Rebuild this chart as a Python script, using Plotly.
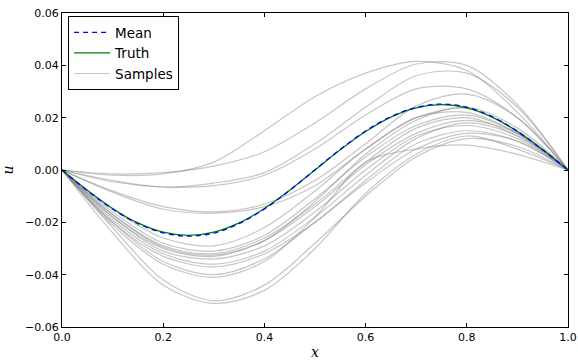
import plotly.graph_objects as go

# grid of x positions for the sampled curves
x_grid = [0.0, 0.1, 0.2, 0.3, 0.4, 0.5, 0.6, 0.7, 0.8, 0.9, 1.0]

x_fine = [0.0, 0.05, 0.1, 0.15, 0.2, 0.25, 0.3, 0.35, 0.4, 0.45, 0.5,
          0.55, 0.6, 0.65, 0.7, 0.75, 0.8, 0.85, 0.9, 0.95, 1.0]
truth = [0.0, -0.00773, -0.01469, -0.02023, -0.02378, -0.025, -0.02378, -0.02023,
         -0.01469, -0.00773, 0.0, 0.00773, 0.01469, 0.02023, 0.02378, 0.025,
         0.02378, 0.02023, 0.01469, 0.00773, 0.0]
mean = [0.0, -0.0079, -0.0149, -0.0205, -0.0240, -0.0253, -0.0241, -0.0205,
        -0.0149, -0.0078, 0.0001, 0.0079, 0.0149, 0.0204, 0.0239, 0.0252,
        0.0240, 0.0204, 0.0148, 0.0077, 0.0]

# sample curves (values in units of 1e-3 at x_grid)
s01 = [0, -2.0, -1.5, 3.0, 15.0, 28.0, 37.0, 41.5, 38.0, 22.0, 0]
s02 = [0, -1.5, -1.0, 1.5, 7.0, 18.0, 31.0, 40.5, 40.0, 25.0, 0]
s03 = [0, -4.0, -6.5, -5.0, -1.0, 10.0, 24.0, 36.0, 37.0, 24.0, 0]
s04 = [0, -4.5, -6.5, -6.0, -2.0, 8.0, 21.0, 31.0, 31.0, 20.0, 0]
s05 = [0, -8.0, -14.0, -16.0, -13.0, -4.0, 10.0, 24.5, 29.0, 20.0, 0]
s06 = [0, -8.5, -15.0, -16.5, -14.0, -6.0, 8.0, 20.0, 22.0, 14.0, 0]
s07 = [0, -15.0, -26.0, -29.0, -22.0, -8.0, 8.0, 20.0, 23.5, 15.0, 0]
s08 = [0, -16.0, -28.0, -31.0, -25.0, -11.0, 5.0, 17.0, 21.0, 14.0, 0]
s09 = [0, -17.0, -29.0, -32.0, -26.0, -13.0, 3.0, 16.0, 20.0, 13.0, 0]
s10 = [0, -17.0, -29.5, -32.5, -27.0, -14.0, 2.0, 14.0, 19.0, 14.0, 0]
s11 = [0, -18.0, -30.0, -33.0, -27.0, -12.0, 6.0, 19.0, 24.0, 16.0, 0]
s12 = [0, -18.0, -31.0, -34.0, -29.0, -16.0, 0.0, 13.0, 17.0, 12.0, 0]
s13 = [0, -19.0, -32.0, -36.0, -31.0, -18.0, -2.0, 12.0, 18.0, 13.0, 0]
s14 = [0, -20.0, -33.0, -37.0, -32.0, -20.0, -4.0, 10.0, 15.0, 11.0, 0]
s15 = [0, -20.0, -35.0, -40.0, -34.0, -20.0, -5.0, 8.0, 14.0, 11.0, 0]
s16 = [0, -21.0, -36.0, -41.0, -35.0, -18.0, 3.0, 8.0, 9.5, 6.0, 0]
s17 = [0, -22.0, -42.0, -50.0, -44.0, -28.0, -10.0, 5.0, 12.0, 9.0, 0]
s18 = [0, -24.0, -44.0, -51.0, -46.0, -30.0, -9.0, 6.0, 13.0, 8.0, 0]
samples = [s01, s02, s03, s04, s05, s06, s07, s08, s09, s10, s11, s12,
           s13, s14, s15, s16, s17, s18]

x_ticks = [0.0, 0.2, 0.4, 0.6, 0.8, 1.0]
y_ticks = [-0.06, -0.04, -0.02, 0.0, 0.02, 0.04, 0.06]

fig = go.Figure()
for i, s in enumerate(samples):
    fig.add_trace(go.Scatter(
        x=x_grid, y=[v * 1e-3 for v in s], mode="lines",
        line=dict(color="rgba(128,128,128,0.45)", width=1.2, shape="spline", smoothing=0.9),
        name="Samples", showlegend=(i == 0), legendrank=3, hoverinfo="skip"))
fig.add_trace(go.Scatter(x=x_fine, y=truth, mode="lines", name="Truth",
                         line=dict(color="#008000", width=1.3, shape="spline"), legendrank=2))
fig.add_trace(go.Scatter(x=x_fine, y=mean, mode="lines", name="Mean",
                         line=dict(color="#0000ff", width=1.3, dash="5px,4px", shape="spline"),
                         legendrank=1))

axis_common = dict(showline=True, linecolor="black", linewidth=1, mirror="allticks",
                   ticks="inside", ticklen=4, tickcolor="black", showgrid=False,
                   zeroline=False, automargin=False,
                   tickfont=dict(family="DejaVu Sans", size=11, color="black"))

fig.update_layout(
    width=578, height=362,
    margin=dict(l=62, r=10, t=13, b=35),
    paper_bgcolor="white", plot_bgcolor="white",
    xaxis=dict(range=[0, 1], tickvals=x_ticks, tickformat=".1f",
               title=dict(text="<i>x</i>", font=dict(family="DejaVu Serif", size=14, color="black"),
                          standoff=3), **axis_common),
    yaxis=dict(range=[-0.06, 0.06], tickvals=y_ticks, tickformat=".2f",
               title=dict(text="<i>u</i>", font=dict(family="DejaVu Serif", size=14, color="black"),
                          standoff=12), **axis_common),
    legend=dict(x=0.012, y=0.99, xanchor="left", yanchor="top",
                bgcolor="white", bordercolor="black", borderwidth=1,
                font=dict(family="DejaVu Sans", size=13.5, color="black"),
                tracegroupgap=0, itemwidth=36),
    showlegend=True,
)

fig.write_html("out.html", config={"displayModeBar": False},
               post_script="document.body.style.margin='0px';")
